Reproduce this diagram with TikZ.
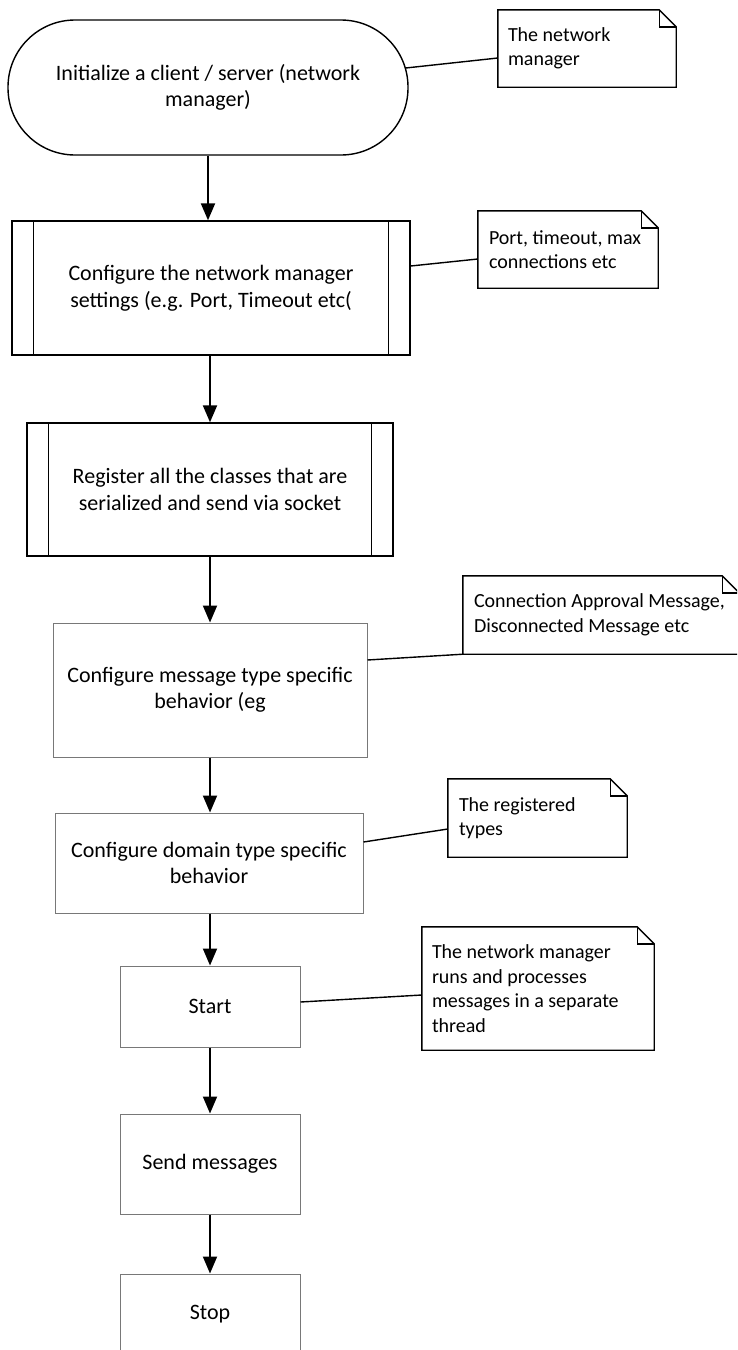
\documentclass[tikz,border=0pt]{standalone}
\usepackage{fontspec}
\setmainfont{Carlito}
\usetikzlibrary{arrows.meta,calc}
\definecolor{boxgray}{RGB}{120,120,120}
\newcommand{\mainfont}{\fontsize{22}{26.5}\selectfont}
\newcommand{\notefnt}{\fontsize{20}{24.5}\selectfont}
\tikzset{
  base/.style={align=center, font=\mainfont, inner sep=0pt},
  termbox/.style={base, draw=black, line width=1.4pt, rounded corners=67pt, fill=white},
  procbox/.style={base, draw=black, line width=1.4pt, fill=white},
  plainbox/.style={base, draw=boxgray, line width=1pt, fill=white},
  noteshape/.style={inner sep=0pt},
  notetext/.style={align=left, font=\notefnt, inner sep=0pt, anchor=west},
  notedraw/.style={draw=black, line width=1.4pt},
  flow/.style={draw=black, line width=2pt, -{Triangle[width=14pt,length=17pt]}},
  link/.style={draw=black, line width=1.4pt},
}
\begin{document}
\begin{tikzpicture}[x=1pt,y=1pt]
\useasboundingbox (0,0) rectangle (737,-1350);
\clip (0,0) rectangle (737,-1350);
% main flow
\node[termbox, minimum width=400, minimum height=135] (pill) at (208,-87.5) {Initialize a client / server (network\\manager)};
\node[procbox, minimum width=398, minimum height=134] (b2) at (211,-288) {Configure the network manager\\settings (e.g. Port, Timeout etc(};
\node[procbox, minimum width=366, minimum height=133] (b3) at (210,-489.5) {Register all the classes that are\\serialized and send via socket};
\node[plainbox, minimum width=314, minimum height=134] (b4) at (210,-690) {Configure message type specific\\behavior (eg};
\node[plainbox, minimum width=308, minimum height=100] (b5) at (209,-863) {Configure domain type specific\\behavior};
\node[plainbox, minimum width=180, minimum height=81] (b6) at (210,-1006.5) {Start};
\node[plainbox, minimum width=180, minimum height=100] (b7) at (210,-1164) {Send messages};
\node[plainbox, minimum width=180, minimum height=80] (b8) at (210,-1314) {Stop};
% predefined process side bars
\foreach \b/\d in {b2/22, b3/22} {
  \draw[line width=1.4pt] ([xshift=\d]\b.north west) -- ([xshift=\d]\b.south west);
  \draw[line width=1.4pt] ([xshift=-\d]\b.north east) -- ([xshift=-\d]\b.south east);
}
% notes
\node[noteshape, minimum width=178, minimum height=77] (n1) at (587,-48.5) {};
\node[noteshape, minimum width=180, minimum height=77] (n2) at (568,-249.5) {};
\node[noteshape, minimum width=276, minimum height=78] (n3) at (601,-615) {};
\node[noteshape, minimum width=179, minimum height=78] (n4) at (537.5,-818) {};
\node[noteshape, minimum width=232, minimum height=123] (n5) at (538,-988.5) {};
\foreach \n in {n1,n2,n3,n4,n5} {
  \draw[notedraw] (\n.south west) -- (\n.north west) -- ([xshift=-17]\n.north east) -- ([yshift=-17]\n.north east) -- (\n.south east) -- cycle;
  \draw[notedraw] ([xshift=-17]\n.north east) |- ([yshift=-17]\n.north east);
}
\node[notetext] (t1) at ([xshift=10]n1.west) {The network\\manager};
\node[notetext] (t2) at ([xshift=11]n2.west) {Port, timeout, max\\connections etc};
\node[notetext] (t3) at ([xshift=11]n3.west) {Connection Approval Message,\\Disconnected Message etc};
\node[notetext] (t4) at ([xshift=11]n4.west) {The registered\\types};
\node[notetext] (t5) at ([xshift=10]n5.west) {The network manager\\runs and processes\\messages in a separate\\thread};
% flow arrows
\draw[flow] (pill.south) -- (pill.south |- b2.north);
\draw[flow] (b2.south -| b3.north) -- (b3.north);
\draw[flow] (b3.south) -- (b4.north);
\draw[flow] (b4.south) -- (b4.south |- b5.north);
\draw[flow] (b5.south -| b6.north) -- (b6.north);
\draw[flow] (b6.south) -- (b7.north);
\draw[flow] (b7.south) -- (b8.north);
% note links
\draw[link] ([xshift=-3,yshift=19.5]pill.east) -- ([yshift=-9.5]n1.west);
\draw[link] ([yshift=22]b2.east) -- ([yshift=-9.5]n2.west);
\draw[link] ([yshift=30]b4.east) -- (n3.south west);
\draw[link] ([yshift=21]b5.east) -- ([yshift=-11]n4.west);
\draw[link] ([yshift=4.5]b6.east) -- ([yshift=-6.5]n5.west);
\end{tikzpicture}
\end{document}
